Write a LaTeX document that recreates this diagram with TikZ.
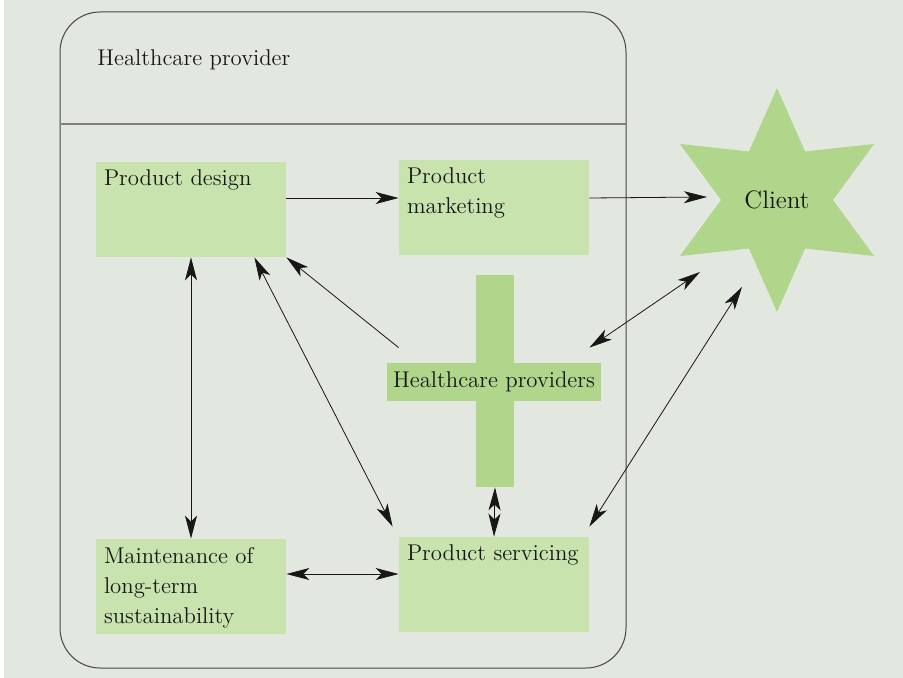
\documentclass[tikz,border=0pt]{standalone}
\usepackage{tikz}
\usetikzlibrary{arrows.meta,shapes.geometric}
\definecolor{panel}{RGB}{226,231,223}
\definecolor{lightleaf}{RGB}{200,227,173}
\definecolor{darkleaf}{RGB}{176,214,140}
\definecolor{ink}{RGB}{25,22,23}
\definecolor{frame}{RGB}{70,70,70}

\begin{document}
\begin{tikzpicture}[x=0.5pt,y=-0.5pt,
  font=\fontsize{11.4}{15}\selectfont, text=ink,
  >={Stealth[length=11.5pt,width=6pt,inset=3pt]},
  box/.style={fill=lightleaf,minimum width=95pt,minimum height=47.5pt,inner sep=0pt},
  boxtext/.style={label={[anchor=north west,inner sep=4pt,align=left]north west:{#1}}},
  bar/.style={fill=darkleaf,inner sep=0pt}]
\useasboundingbox (0,0) rectangle (903,678);
\fill[panel] (4,0) rectangle (903,678);
\draw[frame,line width=0.5pt,rounded corners=20pt] (60,12) rectangle (626,668);
\draw[gray,line width=0.75pt] (60,124) -- (626,124);

\path (97,60) node[anchor=west,inner sep=0pt] (title) {Healthcare provider}
		(191,209.5) node[box,boxtext={Product design}] (design) {}
		(494,207.5) node[box,boxtext={Product\\marketing}] (mark) {}
		(191,586.5) node[box,boxtext={Maintenance of\\long-term\\sustainability}] (maint) {}
		(494,584.5) node[box,boxtext={Product servicing}] (serv) {}
		(495,381) node[bar,minimum width=19pt,minimum height=106pt] (vbar) {}
		(494,382) node[bar,minimum width=107pt,minimum height=19pt] (hp) {Healthcare providers}
		(777,200) node[star,star points=6,star point ratio=2,minimum size=112pt,
			fill=darkleaf,inner sep=0pt,font=\fontsize{12.6}{15}\selectfont] (client) {Client}
		;

\draw[->,ink] ([yshift=5.75pt]design.east) -- ([yshift=5.75pt]design.east -| mark.west);
\draw[->,ink] ([yshift=4.75pt]mark.east) -- ([shift={(-35pt,1.5pt)}]client.center);
\draw[->,ink] ([shift={(6pt,7.5pt)}]hp.north west) -- (node cs:name=design,anchor=south east);
\draw[<->,ink] (node cs:name=design,anchor=south) -- (node cs:name=maint,anchor=north);
\draw[<->,ink] ([xshift=-16pt]design.south east) -- ([shift={(-3pt,5pt)}]serv.north west);
\draw[<->,ink] ([yshift=6.25pt]maint.east) -- ([yshift=6.25pt]maint.east -| serv.west);
\draw[<->,ink] (node cs:name=vbar,anchor=south) -- (node cs:name=serv,anchor=north);
\draw[<->,ink] ([shift={(-38.5pt,-36pt)}]client.center) -- ([shift={(-6pt,7.5pt)}]hp.north east);
\draw[<->,ink] ([shift={(-17.5pt,-43.5pt)}]client.center) -- ([yshift=5pt]serv.north east);
\end{tikzpicture}
\end{document}
